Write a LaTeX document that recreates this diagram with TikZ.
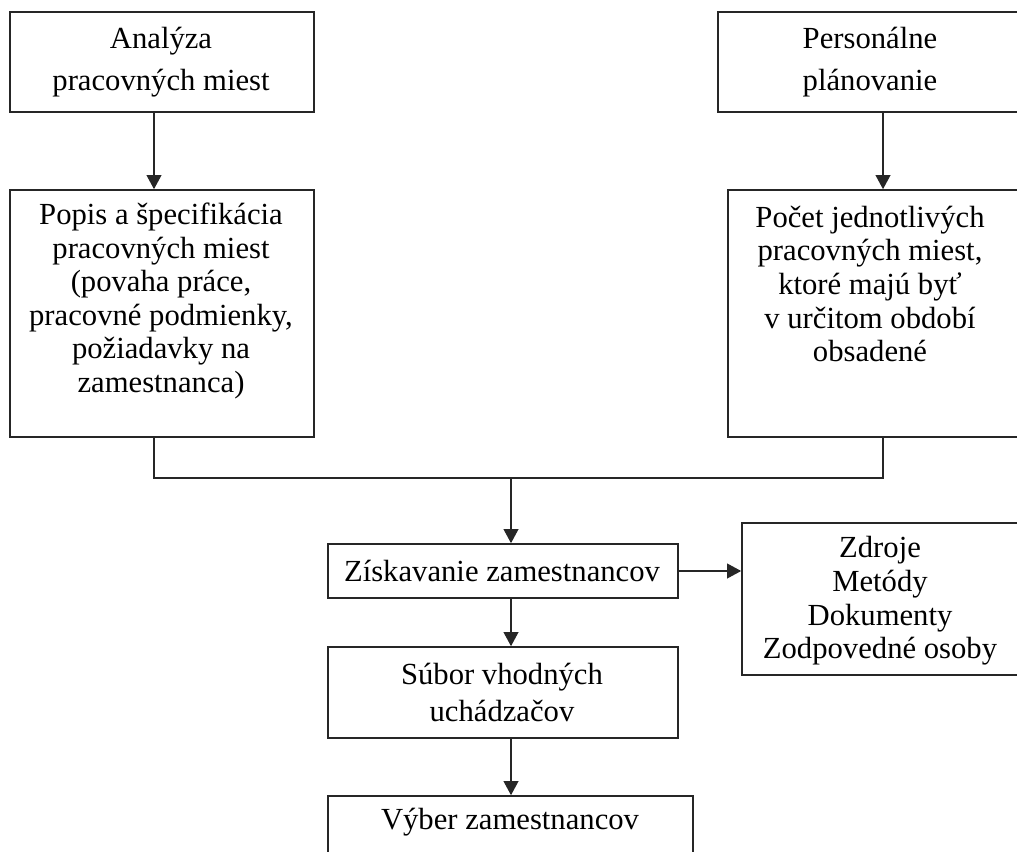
\documentclass[tikz,border=0pt]{standalone}
\usepackage{fontspec}
\setmainfont{Liberation Serif}
\usetikzlibrary{arrows.meta,calc}
\begin{document}
\begin{tikzpicture}[x=0.75pt,y=-0.75pt,
  box/.style={draw=black!85,line width=1.2pt,inner sep=0pt,fill=none},
  txt/.style={align=center,inner sep=0pt,font=\fontsize{23}{25.2}\selectfont},
  wide/.style={font=\fontsize{23}{31.5}\selectfont},
  mid/.style={font=\fontsize{23}{27.75}\selectfont},
  arr/.style={line width=1.2pt,draw=black!85,-{Triangle[length=10.5pt,width=11pt]}},
  ln/.style={line width=1.2pt,draw=black!85}]
\useasboundingbox (0,0) rectangle (1017,852);
\clip (0,0) rectangle (1017,852);
% boxes
\node[box,minimum width=228pt,minimum height=75pt] (A) at (162,62) {};
\node[box,minimum width=241.5pt,minimum height=75pt] (B) at (879,62) {};
\node[box,minimum width=228pt,minimum height=185.25pt] (C) at (162,313.5) {};
\node[box,minimum width=234pt,minimum height=185.25pt] (D) at (884,313.5) {};
\node[box,minimum width=223.5pt,minimum height=114pt] (E) at (891,599) {};
\node[box,minimum width=262.5pt,minimum height=40.5pt] (F) at (503,571) {};
\node[box,minimum width=262.5pt,minimum height=68.25pt] (G) at (503,692.5) {};
\node[box,minimum width=273.75pt,minimum height=78pt] (H) at (510.5,848) {};
% texts
\node[txt,wide] (At) at (161,62) {Analýza\\pracovných miest};
\node[txt,wide] (Bt) at (870,62) {Personálne\\plánovanie};
\node[txt] (Ct) at (161,301) {Popis a špecifikácia\\pracovných miest\\(povaha práce,\\pracovné podmienky,\\požiadavky na\\zamestnanca)};
\node[txt] (Dt) at (870,284) {Počet jednotlivých\\pracovných miest,\\ktoré majú byť\\v určitom období\\obsadené};
\node[txt] (Et) at (880,601) {Zdroje\\Metódy\\Dokumenty\\Zodpovedné osoby};
\node[txt] (Ft) at (502,571) {Získavanie zamestnancov};
\node[txt,mid] (Gt) at (502,692) {Súbor vhodných\\uchádzačov};
\node[txt] (Ht) at (510,822) {Výber zamestnancov};
% connectors
\coordinate (J) at (511,478);
\draw[arr] ([xshift=-6pt]A.south) -- ([xshift=-6pt]C.north);
\draw[arr] ([xshift=3pt]B.south) -- ([xshift=-0.75pt]D.north);
\draw[ln] ([xshift=-6pt]C.south) |- (J) -| ([xshift=-0.75pt]D.south);
\draw[arr] (J) -- (J |- F.north);
\draw[arr] (F.east) -- (F.east -| E.west);
\draw[arr] ([xshift=6pt]F.south) -- ([xshift=6pt]F.south |- G.north);
\draw[arr] ([xshift=6pt]G.south) -- ([xshift=6pt]G.south |- H.north);
\end{tikzpicture}
\end{document}
